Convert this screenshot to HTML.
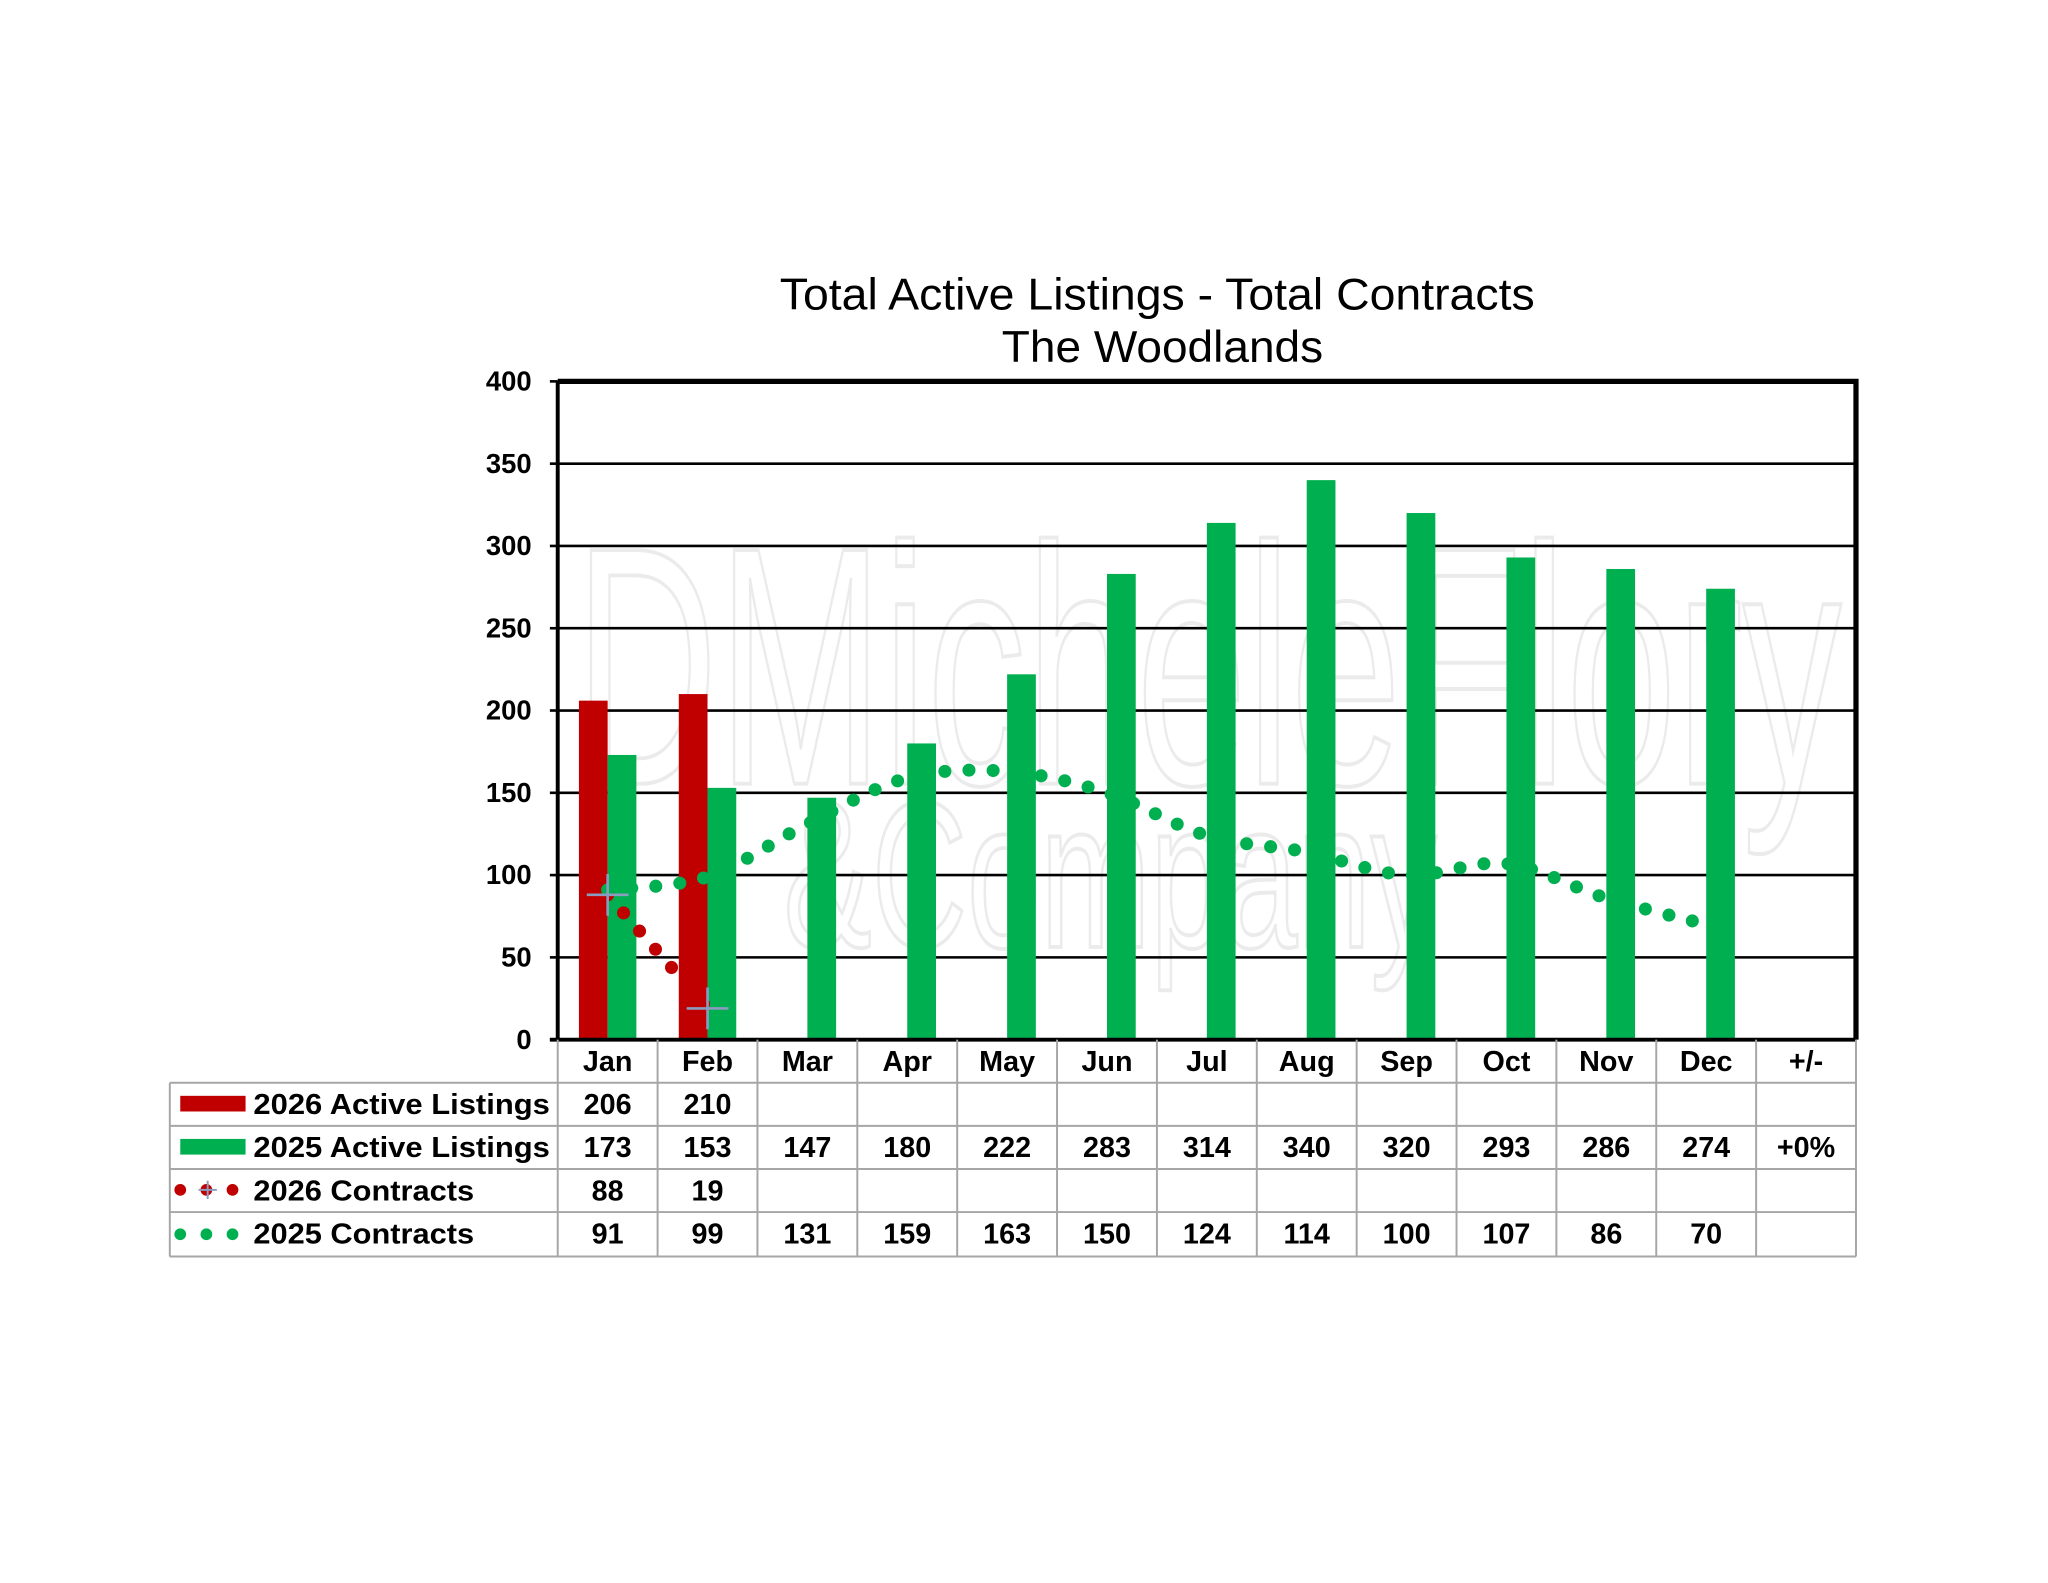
<!DOCTYPE html>
<html><head><meta charset="utf-8"><style>
html,body{margin:0;padding:0;background:#fff;}
svg{display:block;font-family:"Liberation Sans",Arial,sans-serif;}
</style></head><body>
<svg id="c" width="2048" height="1583" viewBox="0 0 1568 1212" xmlns="http://www.w3.org/2000/svg">
<rect width="1568" height="1212" fill="#fff"/>
<text x="886" y="237" font-size="34" text-anchor="middle" textLength="578" lengthAdjust="spacingAndGlyphs">Total Active Listings - Total Contracts</text>
<text x="890" y="277" font-size="34" text-anchor="middle" textLength="246" lengthAdjust="spacingAndGlyphs">The Woodlands</text>
<g fill="none" stroke="#ebebeb" stroke-width="3">
<text x="440" y="600" font-size="260" textLength="970" lengthAdjust="spacingAndGlyphs">DMicheleFlory</text>
<text x="600" y="725" font-size="160" textLength="500" lengthAdjust="spacingAndGlyphs">&amp;Company</text>
</g>
<g id="grid"></g>
<g id="bars"></g>
<g id="lines"></g>
<g id="table"></g>
</svg>
<script>
const NS="http://www.w3.org/2000/svg";
function el(p,t,a,txt){const e=document.createElementNS(NS,t);for(const k in a)e.setAttribute(k,a[k]);if(txt!==undefined)e.textContent=txt;document.getElementById(p).appendChild(e);return e;}
const L=427,R=1421,T=292,B=796,cw=(R-L)/13;
const Y=v=>B-v*(B-T)/400;
for(let v=0;v<=400;v+=50){
 if(v>0&&v<400)el("grid","line",{x1:L,x2:R,y1:Y(v),y2:Y(v),stroke:"#000","stroke-width":2});
 el("grid","line",{x1:L-6,x2:L,y1:Y(v),y2:Y(v),stroke:"#000","stroke-width":2});
 el("grid","text",{x:407,y:Y(v)+7,"font-size":21,"font-weight":"bold","text-anchor":"end"},v);
}
const red=[206,210],green=[173,153,147,180,222,283,314,340,320,293,286,274];
const c26=[88,19],c25=[91,99,131,159,163,150,124,114,100,107,86,70];
const cx=i=>L+cw*(i+0.5);
red.forEach((v,i)=>el("bars","rect",{x:cx(i)-22,y:Y(v),width:22,height:B-Y(v),fill:"#c00000"}));
green.forEach((v,i)=>el("bars","rect",{x:cx(i),y:Y(v),width:22,height:B-Y(v),fill:"#00b050"}));
function smooth(pts){let d="M"+pts[0][0]+","+pts[0][1];for(let i=0;i<pts.length-1;i++){const p0=pts[i-1]||pts[i],p1=pts[i],p2=pts[i+1],p3=pts[i+2]||p2;
 d+=` C${p1[0]+(p2[0]-p0[0])/6},${p1[1]+(p2[1]-p0[1])/6} ${p2[0]-(p3[0]-p1[0])/6},${p2[1]-(p3[1]-p1[1])/6} ${p2[0]},${p2[1]}`;}return d;}
el("lines","path",{d:smooth(c26.map((v,i)=>[cx(i),Y(v)])),fill:"none",stroke:"#c00000","stroke-width":10,"stroke-linecap":"round","stroke-dasharray":"0 18.5"});
el("lines","path",{d:smooth(c25.map((v,i)=>[cx(i),Y(v)])),fill:"none",stroke:"#00b050","stroke-width":10,"stroke-linecap":"round","stroke-dasharray":"0 18.5"});
[[0,88],[1,19]].forEach(([i,v])=>{const x=cx(i),y=Y(v);el("lines","path",{d:`M${x-16},${y}H${x+16}M${x},${y-16}V${y+16}`,stroke:"#8a9cc0","stroke-width":2});});
el("lines","path",{d:`M${L},${T}H${R}V${B}`,fill:"none",stroke:"#000","stroke-width":4});
el("lines","line",{x1:L,x2:L,y1:T,y2:B,stroke:"#000","stroke-width":3});
el("lines","line",{x1:L-6,x2:R,y1:B,y2:B,stroke:"#000","stroke-width":3});
const rows=[796,829,862,895,928,962],g="#a6a6a6";
const months=["Jan","Feb","Mar","Apr","May","Jun","Jul","Aug","Sep","Oct","Nov","Dec","+/-"];
for(let j=0;j<=13;j++){const x=L+cw*j;el("table","line",{x1:x,x2:x,y1:B,y2:962,stroke:g,"stroke-width":1.5});}
el("table","line",{x1:130,x2:130,y1:829,y2:962,stroke:g,"stroke-width":1.5});
for(let r=1;r<rows.length;r++)el("table","line",{x1:130,x2:R,y1:rows[r],y2:rows[r],stroke:g,"stroke-width":1.5});
const fs={"font-size":22,"font-weight":"bold","text-anchor":"middle"};
months.forEach((m,i)=>el("table","text",Object.assign({x:cx(i),y:820},fs),m));
const data=[red,green.concat(["+0%"]),c26,c25];
data.forEach((arr,r)=>arr.forEach((v,i)=>el("table","text",Object.assign({x:cx(i),y:rows[r+1]+24},fs),v)));
const labs=[["2026 Active Listings",227],["2025 Active Listings",227],["2026 Contracts",169],["2025 Contracts",169]];
labs.forEach(([t,w],r)=>el("table","text",{x:194,y:rows[r+1]+24,"font-size":22,"font-weight":"bold",textLength:w,lengthAdjust:"spacingAndGlyphs"},t));
el("table","rect",{x:138,y:839,width:50,height:12,fill:"#c00000"});
el("table","rect",{x:138,y:872,width:50,height:12,fill:"#00b050"});
[138,158,178].forEach(x=>{el("table","circle",{cx:x,cy:911,r:4.5,fill:"#c00000"});el("table","circle",{cx:x,cy:945,r:4.5,fill:"#00b050"});});
el("table","path",{d:"M152,911H166M159,904V918",stroke:"#8a9cc0","stroke-width":1.5});
</script>
</body></html>
